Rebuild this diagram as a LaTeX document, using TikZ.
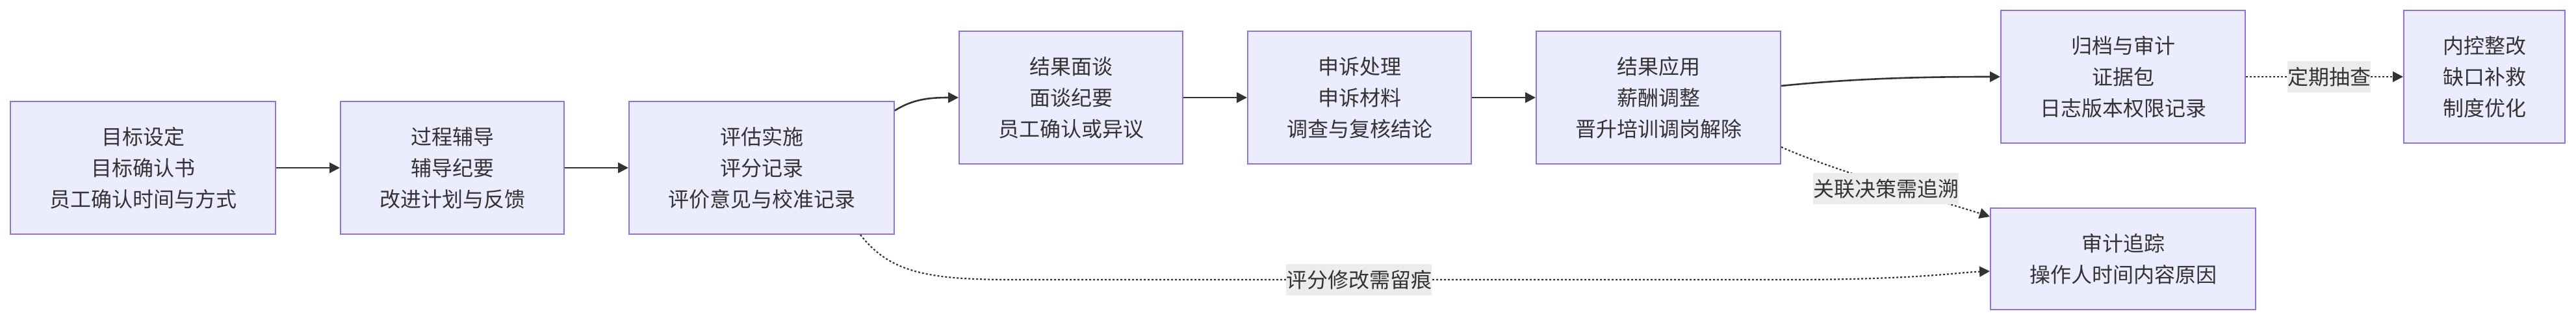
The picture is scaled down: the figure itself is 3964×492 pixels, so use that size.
\documentclass[tikz,border=0pt]{standalone}
\usepackage{fontspec}
\setmainfont{Noto Sans CJK SC}
\usetikzlibrary{arrows.meta,calc}
\definecolor{nodefill}{HTML}{ECECFF}
\definecolor{nodeline}{HTML}{9370DB}
\definecolor{edgecol}{HTML}{333333}
\definecolor{lblfill}{HTML}{ECECEC}
\tikzset{
  box/.style={draw=nodeline, fill=nodefill, line width=2pt, align=center,
    inner sep=0pt, text=edgecol, font=\fontsize{32}{48}\selectfont},
  tall/.style={minimum height=204pt},
  short/.style={minimum height=156pt},
  edge/.style={draw=edgecol, line width=2.6pt, -{Triangle[length=16pt,width=16pt]}},
  dotedge/.style={draw=edgecol, line width=2.2pt, dash pattern=on 3pt off 3pt,
    -{Triangle[length=16pt,width=16pt]}},
  lbl/.style={fill=lblfill, inner sep=0pt, minimum height=48pt, text=edgecol,
    font=\fontsize{32}{48}\selectfont}
}
\begin{document}
\begin{tikzpicture}[x=1pt,y=-1pt]
\useasboundingbox (0,0) rectangle (3964,492);
\node[box,tall,minimum width=408pt] (A) at (220,258) {目标设定\\目标确认书\\员工确认时间与方式};
\node[box,tall,minimum width=344pt] (B) at (696,258) {过程辅导\\辅导纪要\\改进计划与反馈};
\node[box,tall,minimum width=408pt] (C) at (1172,258) {评估实施\\评分记录\\评价意见与校准记录};
\node[box,tall,minimum width=344pt] (D) at (1648,150) {结果面谈\\面谈纪要\\员工确认或异议};
\node[box,tall,minimum width=344pt] (E) at (2092,150) {申诉处理\\申诉材料\\调查与复核结论};
\node[box,tall,minimum width=376pt] (F) at (2552,150) {结果应用\\薪酬调整\\晋升培训调岗解除};
\node[box,tall,minimum width=376pt] (G) at (3267,118) {归档与审计\\证据包\\日志版本权限记录};
\node[box,tall,minimum width=248pt] (H) at (3823,118) {内控整改\\缺口补救\\制度优化};
\node[box,short,minimum width=408pt] (I) at (3267,398) {审计追踪\\操作人时间内容原因};

\draw[edge] (A.east) -- (B.west);
\draw[edge] (B.east) -- (C.west);
\draw[edge] ($(C.east)+(0,-88)$) .. controls (1405,152) and (1432,150) .. (D.west);
\draw[edge] (D.east) -- (E.west);
\draw[edge] (E.east) -- (F.west);
\draw[edge] ($(F.east)+(0,-18)$) .. controls (2850,121) and (2950,118) .. (G.west);
\draw[dotedge] (G.east) -- (H.west);
\node[lbl] (L1) at (3584,118) {定期抽查};
\draw[dotedge] ($(F.east)+(0,76)$) .. controls (2820,262) and (2990,310) .. ($(I.west)+(0,-65)$);
\node[lbl] (L2) at (2902,290) {关联决策需追溯};
\draw[dotedge] ($(C.south)+(152,0)$) .. controls (1370,420) and (1430,430) .. (1560,430) -- (2750,430) .. controls (2950,430) and (3010,419) .. ($(I.west)+(0,19)$);
\node[lbl] (L3) at (2091,430) {评分修改需留痕};
\end{tikzpicture}
\end{document}
